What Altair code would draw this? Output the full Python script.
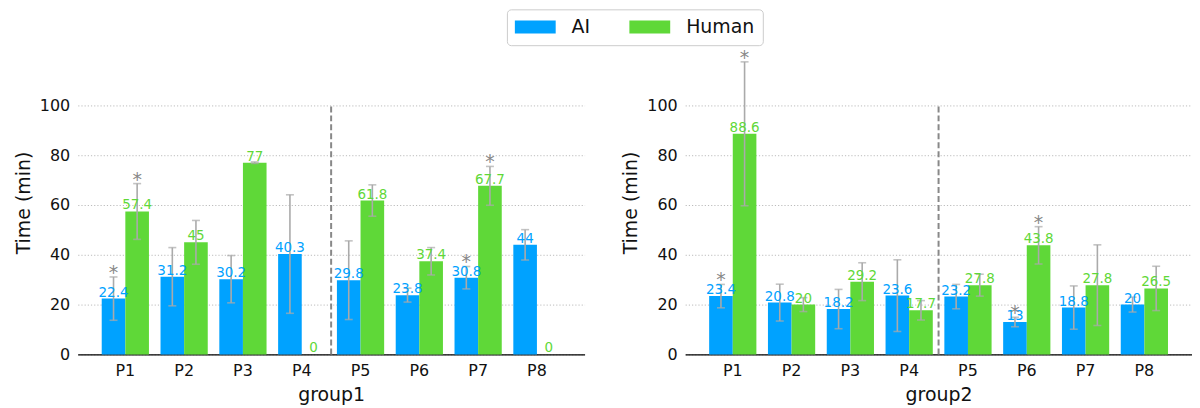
import altair as alt
import pandas as pd

participants = ["P1", "P2", "P3", "P4", "P5", "P6", "P7", "P8"]
series_names = ["AI", "Human"]
groups = ["group1", "group2"]

g1_ai = [22.4, 31.2, 30.2, 40.3, 29.8, 23.8, 30.8, 44]
g1_h = [57.4, 45, 77, 0, 61.8, 37.4, 67.7, 0]
g1_ai_err = [8.7, 11.7, 9.5, 23.8, 15.8, 2.8, 4.5, 6.1]
g1_h_err = [11.2, 8.8, 0.3, 0, 6.3, 5.5, 7.8, 0]
g1_ai_star = [1, 0, 0, 0, 0, 0, 1, 0]
g1_h_star = [1, 0, 0, 0, 0, 0, 1, 0]

g2_ai = [23.4, 20.8, 18.2, 23.6, 23.2, 13, 18.8, 20]
g2_h = [88.6, 20, 29.2, 17.7, 27.8, 43.8, 27.8, 26.5]
g2_ai_err = [4.7, 7.4, 7.9, 14.4, 4.9, 1.9, 8.7, 3.0]
g2_h_err = [28.9, 2.8, 7.6, 3.9, 4.4, 7.5, 16.2, 8.9]
g2_ai_star = [1, 0, 0, 0, 0, 1, 0, 0]
g2_h_star = [1, 0, 0, 0, 0, 1, 0, 0]

divider_at = ["P5"]
divider_top = [100]
y_ticks = [0, 20, 40, 60, 80, 100]

BLUE = "#00A2FF"
GREEN = "#5FD838"
ERR = "#AAAAAA"
STAR = "#888888"

rows = []
for g, ai, h, aie, he, ais, hs in [
    ("group1", g1_ai, g1_h, g1_ai_err, g1_h_err, g1_ai_star, g1_h_star),
    ("group2", g2_ai, g2_h, g2_ai_err, g2_h_err, g2_ai_star, g2_h_star),
]:
    for i, p in enumerate(participants):
        rows.append(dict(group=g, P=p, series="AI", value=ai[i], err=aie[i], star=ais[i]))
        rows.append(dict(group=g, P=p, series="Human", value=h[i], err=he[i], star=hs[i]))
df = pd.DataFrame(rows)
div_df = pd.DataFrame({"P": divider_at, "lo": [0], "hi": divider_top})


def panel(g):
    base = alt.Chart(df).transform_filter(alt.datum.group == g)
    x = alt.X(
        "P:N", sort=participants, title=g,
        scale=alt.Scale(paddingInner=0, paddingOuter=0.31),
        axis=alt.Axis(labelAngle=0, ticks=False, labelPadding=8, titlePadding=7,
                      domain=True, domainColor="#000000", domainWidth=1.3, grid=False),
    )
    xo = alt.XOffset("series:N", sort=series_names,
                     scale=alt.Scale(paddingInner=0, paddingOuter=0.245))
    yscale = alt.Scale(domain=[0, 122], nice=False)
    yaxis = alt.Axis(values=y_ticks, ticks=False, domain=False, labelPadding=8,
                     titlePadding=6, grid=True, gridColor="#BBBBBB",
                     gridDash=[1.2, 2], gridWidth=1)

    def Y(field):
        return alt.Y(field, scale=yscale, axis=yaxis, title="Time (min)")

    color = alt.Color(
        "series:N", scale=alt.Scale(domain=series_names, range=[BLUE, GREEN]),
        legend=alt.Legend(
            title=None, orient="none", legendX=431, legendY=-41.5, direction="horizontal",
            symbolType="M-1,-0.684L3.316,-0.684L3.316,0.684L-1,0.684Z", symbolSize=361,
            symbolStrokeWidth=0, labelFontSize=19, labelOffset=38, columnPadding=39,
            padding=8, strokeColor="#CCCCCC", fillColor="white", cornerRadius=4,
            labelColor="#111111",
        ),
    )
    bars = base.mark_bar().encode(x=x, xOffset=xo, y=Y("value:Q"), color=color)
    errbase = base.transform_filter(alt.datum.err > 0).transform_calculate(
        lo="datum.value - datum.err", hi="datum.value + datum.err")
    err = errbase.mark_rule(color=ERR, strokeWidth=1.6).encode(
        x=x, xOffset=xo, y=Y("lo:Q"), y2="hi:Q")
    cap_hi = errbase.mark_tick(color=ERR, size=8, thickness=1.6).encode(
        x=x, xOffset=xo, y=Y("hi:Q"))
    cap_lo = errbase.mark_tick(color=ERR, size=8, thickness=1.6).encode(
        x=x, xOffset=xo, y=Y("lo:Q"))
    labels = base.mark_text(baseline="alphabetic", dy=-2, fontSize=13.5).encode(
        x=x, xOffset=xo, y=Y("value:Q"),
        text=alt.Text("value:Q", format="~g"),
        color=alt.Color("series:N", scale=alt.Scale(domain=series_names, range=[BLUE, GREEN]), legend=None),
    )
    stars = errbase.transform_filter(alt.datum.star == 1).mark_text(
        text="*", fontSize=19, dy=2, color=STAR, baseline="alphabetic").encode(
        x=x, xOffset=xo, y=Y("hi:Q"))
    divider = alt.Chart(div_df).mark_rule(
        strokeDash=[6, 3], color="#888888", strokeWidth=2).encode(
        x=alt.X("P:N", sort=participants, bandPosition=0, title=g,
                scale=alt.Scale(paddingInner=0, paddingOuter=0.31)),
        y=Y("lo:Q"), y2="hi:Q")
    return alt.layer(bars, err, cap_hi, cap_lo, labels, stars, divider).properties(
        width=509, height=305)


chart = alt.hconcat(panel("group1"), panel("group2"), spacing=37).properties(
    padding={"left": 6, "top": 0, "right": 0, "bottom": 0}
).configure(font="DejaVu Sans").configure_view(stroke=None).configure_axis(
    labelFontSize=16, titleFontSize=19, labelColor="#111111", titleColor="#111111",
    titleFontWeight="normal", labelFont="DejaVu Sans", titleFont="DejaVu Sans",
)

chart.save("out.html", embed_options={"renderer": "svg", "actions": False})
